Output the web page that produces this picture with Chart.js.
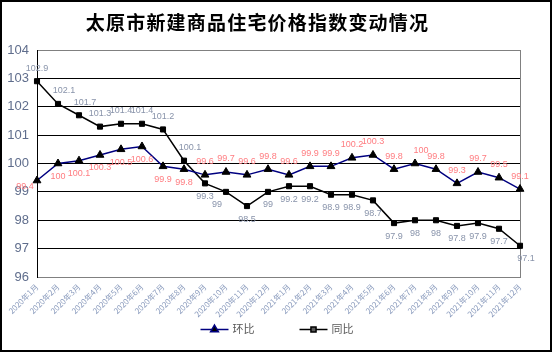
<!DOCTYPE html>
<html><head><meta charset="utf-8">
<script src="https://cdn.jsdelivr.net/npm/chart.js@4.4.0/dist/chart.umd.min.js"></script>
<style>
html,body{margin:0;padding:0;background:#fff;}
#wrap{position:relative;width:554px;height:354px;overflow:hidden;background:#fff;}
#frame{position:absolute;left:0;top:0;width:548px;height:348px;border:2px solid #000;pointer-events:none;}
#title{position:absolute;left:0;top:8px;width:515px;text-align:center;font-family:"Noto Sans CJK SC",sans-serif;font-weight:bold;font-size:19px;letter-spacing:1.2px;color:#000;line-height:28px;}
canvas{position:absolute;left:0;top:0;}
</style></head><body>
<div id="wrap"><canvas id="c" width="554" height="354"></canvas><div id="frame"></div><div id="title">太原市新建商品住宅价格指数变动情况</div></div>
<script>
const categories = ['2020年1月','2020年2月','2020年3月','2020年4月','2020年5月','2020年6月','2020年7月','2020年8月','2020年9月','2020年10月','2020年11月','2020年12月',
  '2021年1月','2021年2月','2021年3月','2021年4月','2021年5月','2021年6月','2021年7月','2021年8月','2021年9月','2021年10月','2021年11月','2021年12月'];
const huanbi = [99.4,100,100.1,100.3,100.5,100.6,99.9,99.8,99.6,99.7,99.6,99.8,99.6,99.9,99.9,100.2,100.3,99.8,100,99.8,99.3,99.7,99.5,99.1];
const tongbi = [102.9,102.1,101.7,101.3,101.4,101.4,101.2,100.1,99.3,99,98.5,99,99.2,99.2,98.9,98.9,98.7,97.9,98,98,97.8,97.9,97.7,97.1];
const yTicks = [96,97,98,99,100,101,102,103,104];
const seriesNames = ['环比','同比'];
// label placement relative to point: t=above, b=below, l=left, tr/br/bl = shifted
const huanbiLabelSide = ['l','b','b','b','b','b','b','b','t','t','t','t','t','t','t','t','t','t','tr','t','t','t','t','t'];
const tongbiLabelSide = ['t','tr','tr','t','t','t','t','tr','b','bl','b','b','b','b','b','b','b','b','b','b','b','b','b','br'];

const labelSides = [huanbiLabelSide, tongbiLabelSide];
const labelColors = ['#ff7c80', '#8893aa'];

const frameLines = {
  id: 'frameLines',
  beforeDatasetsDraw(chart) {
    const a = chart.chartArea, ctx = chart.ctx;
    ctx.save();
    ctx.strokeStyle = '#808080';
    ctx.lineWidth = 1;
    ctx.beginPath();
    ctx.moveTo(Math.round(a.right) + 0.5, a.top);
    ctx.lineTo(Math.round(a.right) + 0.5, a.bottom);
    ctx.stroke();
    ctx.restore();
  }
};

const dataLabels = {
  id: 'dataLabels',
  afterDatasetsDraw(chart) {
    const ctx = chart.ctx;
    ctx.save();
    ctx.font = '9px "Liberation Sans Narrow", "Liberation Sans", Arial';
    ctx.textAlign = 'center';
    ctx.textBaseline = 'middle';
    chart.data.datasets.forEach((ds, di) => {
      const meta = chart.getDatasetMeta(di);
      ctx.fillStyle = labelColors[di];
      meta.data.forEach((el, i) => {
        const side = labelSides[di][i];
        let x = el.x, y = el.y;
        if (side[0] === 't') y -= 13;
        if (side[0] === 'b') y += 13;
        if (side === 'l') { x -= 12; y += 6; }
        if (side[1] === 'r') x += 6;
        if (side[1] === 'l') x -= 9;
        ctx.fillText(String(ds.data[i]), x, y);
      });
    });
    ctx.restore();
  }
};

const customLegend = {
  id: 'customLegend',
  afterDraw(chart) {
    const ctx = chart.ctx;
    ctx.save();
    ctx.font = '11px "Noto Sans CJK SC", sans-serif';
    ctx.textBaseline = 'middle';
    const boxW = 28, gap = 4, itemGap = 45, y = 329;
    const widths = chart.data.datasets.map(ds => boxW + gap + ctx.measureText(ds.label).width);
    const total = widths.reduce((s, w) => s + w, 0) + itemGap * (widths.length - 1);
    let x = (chart.width - total) / 2;
    chart.data.datasets.forEach((ds, di) => {
      ctx.strokeStyle = ds.borderColor;
      ctx.lineWidth = ds.borderWidth;
      ctx.beginPath();
      ctx.moveTo(x, y + 0.5);
      ctx.lineTo(x + boxW, y + 0.5);
      ctx.stroke();
      Chart.helpers.drawPoint(ctx, {
        pointStyle: ds.pointStyle, radius: ds.pointRadius, rotation: 0, borderWidth: 1
      }, x + boxW / 2, y + 0.5);
      ctx.fillStyle = '#595959';
      ctx.textAlign = 'left';
      ctx.fillText(ds.label, x + boxW + gap, y);
      x += widths[di] + itemGap;
    });
    ctx.restore();
  }
};

// make drawPoint use black fill for legend markers
Chart.defaults.font.family = '"Liberation Sans", Arial, sans-serif';

const chart = new Chart(document.getElementById('c'), {
  type: 'line',
  data: {
    labels: categories,
    datasets: [
      { label: seriesNames[0], data: huanbi, borderColor: '#000080', borderWidth: 1.5,
        pointStyle: 'triangle', pointRadius: 4.5, pointBackgroundColor: '#000', pointBorderColor: '#000',
        pointBorderWidth: 1, tension: 0, fill: false },
      { label: seriesNames[1], data: tongbi, borderColor: '#000', borderWidth: 1.5,
        pointStyle: 'rect', pointRadius: 3.6, pointBackgroundColor: '#000', pointBorderColor: '#000',
        pointBorderWidth: 1, tension: 0, fill: false }
    ]
  },
  options: {
    responsive: false, animation: false, devicePixelRatio: 1,
    layout: { padding: { left: 0, right: 34, top: 50, bottom: 27 } },
    plugins: { legend: { display: false }, title: { display: false }, tooltip: { enabled: false } },
    scales: {
      x: {
        offset: false,
        grid: { display: false, drawTicks: false },
        border: { color: '#808080', width: 1 },
        ticks: { minRotation: 45, maxRotation: 45, autoSkip: false, padding: 5, color: '#8a9bbd',
          font: { family: '"Liberation Sans Narrow", "Noto Sans CJK SC", sans-serif', size: 8 } },
        afterFit(s) { s.height = 50; }
      },
      y: {
        min: 96, max: 104,
        afterBuildTicks(s) { s.ticks = yTicks.map(v => ({ value: v })); },
        grid: { color: c => (c.tick && (c.tick.value === 96 || c.tick.value === 104)) ? '#808080' : '#000', drawTicks: false, lineWidth: 1 },
        border: { color: '#000', width: 1 },
        ticks: { padding: 8, color: '#5f6d8c',
          font: { family: '"Liberation Sans Narrow", "Liberation Sans", Arial', size: 13 } },
        afterFit(s) { s.width = 37; }
      }
    }
  },
  plugins: [frameLines, dataLabels, customLegend]
});
</script>
</body></html>
